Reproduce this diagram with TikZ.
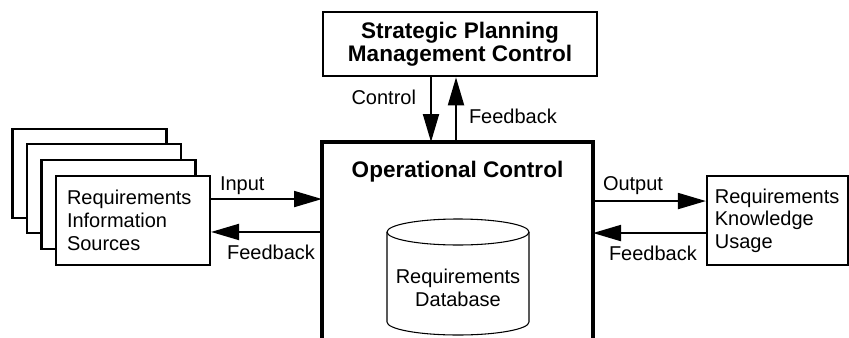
\documentclass[tikz,border=0pt]{standalone}
\usepackage{fontspec}
\setmainfont{Liberation Sans}
\usetikzlibrary{arrows.meta,positioning,calc}
\tikzset{
  cs/block/.style={draw, line width=2pt, minimum width=205.5pt, minimum height=48pt, inner sep=0pt, align=center, font=\fontsize{16.9}{17}\selectfont\bfseries},
  cs/source/.style={draw, fill=white, line width=1.6pt, minimum width=115.5pt, minimum height=66.75pt, inner sep=0pt},
  cs/info/.style={draw, fill=white, line width=1.6pt, minimum height=66.75pt, inner ysep=0pt, text width=#1, align=left, font=\fontsize{15}{17}\selectfont},
  cs/frame/.style={minimum width=203.25pt, minimum height=150pt, inner sep=0pt, outer sep=0pt},
  cs/wall/.style={line width=2.3pt},
  cs/title/.style={font=\fontsize{16.9}{17}\selectfont\bfseries, inner sep=0pt},
  cs/store/.style={line width=0.8pt},
  cs/dbtext/.style={align=center, inner sep=0pt, font=\fontsize{15}{17}\selectfont},
  cs/flow/.style={line width=1.5pt, -{Triangle[length=21pt,width=12pt]}},
  cs/label/.style={inner sep=0pt, font=\fontsize{15}{17}\selectfont}
}

\begin{document}
\begin{tikzpicture}[x=0.75pt, y=0.75pt]
  \useasboundingbox (0,0) rectangle (849,337);

  \node[cs/block] (plan) at (460,293) {Strategic Planning\\Management Control};

  % operational control, open at the bottom
  \node[cs/frame] (opctl) at (457.5,95) {};
  \draw[cs/wall] (opctl.south west) -- (opctl.north west) -- (opctl.north east) -- (opctl.south east);
  \node[cs/title, anchor=base] (optitle) at ($(opctl.north)+(0,-35)$) {Operational Control};

  % database cylinder
  \node[cs/dbtext] (reqdb) at (458,49) {Requirements\\Database};
  \draw[cs/store] (387,105) -- (387,15) arc[start angle=180, end angle=360, x radius=53.25pt, y radius=9.75pt] -- (529,105);
  \draw[cs/store] (458,105) ellipse[x radius=53.25pt, y radius=9.75pt];

  % stacked sources
  \foreach \i in {3,2,1}
    \node[cs/source] (src\i) at (133-14.5*\i, 116.5+15.8*\i) {};
  \node[cs/info=99pt, inner xsep=8.25pt] (src) at (133,116.5) {Requirements\\Information\\Sources};

  \node[cs/info=94pt, inner xsep=5.9pt] (usage) at (777.5,116.5) {Requirements\\Knowledge\\Usage};

  \coordinate (ctl) at ([xshift=-21.75pt]plan.south);
  \coordinate (fbup) at ([xshift=-3pt]plan.south);
  \draw[cs/flow] (ctl) -- (ctl |- opctl.north)
    node[cs/label, pos=0, anchor=base east, xshift=-10.5pt, yshift=-20.25pt] {Control};
  \draw[cs/flow] (fbup |- opctl.north) -- (fbup)
    node[cs/label, pos=0, anchor=base west, xshift=9pt, yshift=14.25pt] {Feedback};

  \coordinate (inp) at ([yshift=16.1pt]src.east);
  \coordinate (fbin) at ([yshift=-8.6pt]src.east);
  \draw[cs/flow] (inp) -- (inp -| opctl.west)
    node[cs/label, pos=0, anchor=base west, xshift=6pt, yshift=6.75pt] {Input};
  \draw[cs/flow] (fbin -| opctl.west) -- (fbin)
    node[cs/label, pos=1, anchor=base west, xshift=11.25pt, yshift=-21pt] {Feedback};

  \coordinate (outp) at ([yshift=14.6pt]usage.west);
  \coordinate (fbout) at ([yshift=-9.4pt]usage.west);
  \draw[cs/flow] (outp -| opctl.east) -- (outp)
    node[cs/label, pos=0, anchor=base west, xshift=6.75pt, yshift=8.25pt] {Output};
  \draw[cs/flow] (fbout) -- (fbout -| opctl.east)
    node[cs/label, pos=1, anchor=base west, xshift=11.25pt, yshift=-20.25pt] {Feedback};
\end{tikzpicture}
\end{document}
